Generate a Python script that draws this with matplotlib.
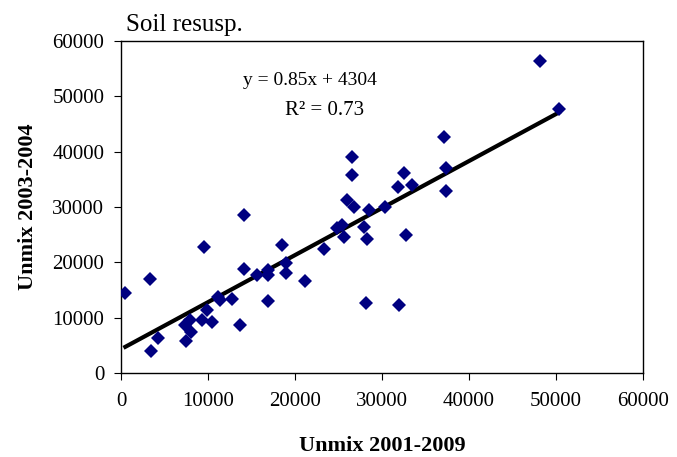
import numpy as np
import matplotlib.pyplot as plt

plt.rcParams['font.family'] = ['Liberation Serif', 'DejaVu Serif']

unmix_2001_2009 = [500, 3300, 3500, 4300, 9500, 7500, 7400, 7900, 8100, 9300,
                   9900, 10500, 11100, 11400, 12800, 13700, 14100, 15600, 16900, 16900,
                   16900, 18500, 19000, 19000, 21200, 14100, 23300, 25400, 24800, 25600,
                   26000, 26800, 26600, 26600, 27900, 28500, 28300, 30400, 31800, 32500,
                   33400, 32800, 28200, 32000, 48200, 50300, 37100, 37300, 37400]
unmix_2003_2004 = [14400, 16900, 3900, 6400, 22700, 5800, 8700, 9600, 7500, 9600,
                   11400, 9300, 13800, 13200, 13300, 8600, 18800, 17700, 18600, 17700,
                   13000, 23100, 19800, 18000, 16600, 28600, 22400, 26800, 26200, 24500,
                   31300, 30000, 39000, 35800, 26300, 29500, 24200, 30000, 33700, 36200,
                   34000, 24900, 12600, 12300, 56300, 47700, 42600, 37000, 32900]
slope = 0.85
intercept = 4304

fig = plt.figure(figsize=(6.77, 4.57), dpi=100)
ax = fig.add_axes([0.1787, 0.1838, 0.7711, 0.7265])

ax.plot(unmix_2001_2009, unmix_2003_2004, 'D', color='#000080', ms=6.8,
        markeredgewidth=0, zorder=3)

xs = np.array([min(unmix_2001_2009), max(unmix_2001_2009)])
ax.plot(xs, slope * xs + intercept, color='black', lw=3, zorder=2)

ax.set_xlim(0, 60000)
ax.set_ylim(0, 60000)
ax.set_xticks(range(0, 60001, 10000))
ax.set_yticks(range(0, 60001, 10000))
ax.tick_params(direction='out', length=5, labelsize=15, top=False, right=False)
ax.tick_params(axis='x', pad=9)
ax.tick_params(axis='y', pad=7)
for s in ax.spines.values():
    s.set_linewidth(1)

ax.set_xlabel('Unmix 2001-2009', fontsize=16, fontweight='bold', labelpad=18)
ax.set_ylabel('Unmix 2003-2004', fontsize=16, fontweight='bold', labelpad=10)
ax.text(0.01, 1.03, 'Soil resusp.', transform=ax.transAxes, fontsize=18,
        ha='left', va='baseline')

ax.text(21700, 52800, 'y = 0.85x + 4304', fontsize=14, ha='center', va='center')
ax.text(23400, 47500, 'R² = 0.73', fontsize=15, ha='center', va='center')

fig.savefig('out.png', dpi=100)
